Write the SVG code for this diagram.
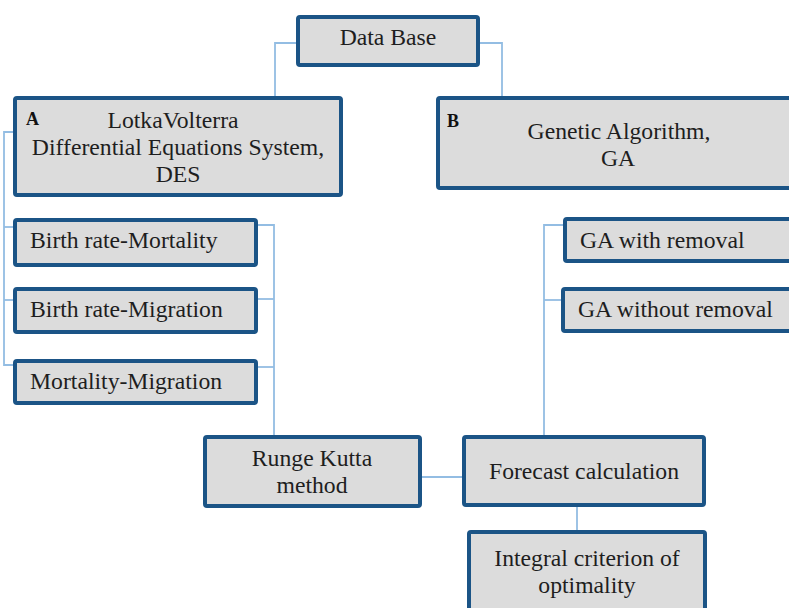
<svg xmlns="http://www.w3.org/2000/svg" width="789" height="608" viewBox="0 0 789 608">
<style>
.box{fill:#dcdcdc;stroke:#1b5486;stroke-width:4}
.t{font-family:"Liberation Serif","Times New Roman",serif;font-size:23.7px;fill:#1e1e1e}
.c{text-anchor:middle}
.b{font-family:"Liberation Serif","Times New Roman",serif;font-size:18px;font-weight:bold;fill:#111}
.conn{fill:none;stroke:#93bde3;stroke-width:1.8}
</style>
<rect width="789" height="608" fill="#fff"/>
<g id="connectors" class="conn">
<path d="M296 43 H275 V97"/>
<path d="M480 43 H502 V97"/>
<path d="M13 132 H4 V365 H13"/>
<path d="M4 227 H13"/>
<path d="M4 300 H13"/>
<path d="M258 225 H274 V435"/>
<path d="M258 299 H274"/>
<path d="M258 367 H274"/>
<path d="M422 477 H462"/>
<path d="M544 435 V225 H563"/>
<path d="M544 300 H561"/>
<path d="M577 507 V530"/>
</g>
<g id="database">
<rect class="box" x="298" y="17" width="180" height="48" rx="2"/>
<text class="t c" x="388" y="45">Data Base</text>
</g>
<g id="nodeA">
<rect class="box" x="15" y="98" width="326" height="97" rx="2"/>
<text class="b" x="26" y="125">A</text>
<text class="t c" x="173" y="128">LotkaVolterra</text>
<text class="t c" x="178" y="155">Differential Equations System,</text>
<text class="t c" x="178" y="182">DES</text>
</g>
<g id="nodeB">
<rect class="box" x="438" y="98" width="362" height="90" rx="2"/>
<text class="b" x="447" y="127">B</text>
<text class="t c" x="619" y="139">Genetic Algorithm,</text>
<text class="t c" x="618" y="166">GA</text>
</g>
<g id="birth-mortality">
<rect class="box" x="15" y="220" width="241" height="45" rx="2"/>
<text class="t" x="30" y="248">Birth rate-Mortality</text>
</g>
<g id="birth-migration">
<rect class="box" x="15" y="289" width="241" height="43" rx="2"/>
<text class="t" x="30" y="317">Birth rate-Migration</text>
</g>
<g id="mortality-migration">
<rect class="box" x="15" y="361" width="241" height="42" rx="2"/>
<text class="t" x="30" y="389">Mortality-Migration</text>
</g>
<g id="ga-with">
<rect class="box" x="565" y="219" width="240" height="42" rx="2"/>
<text class="t" x="580" y="248">GA with removal</text>
</g>
<g id="ga-without">
<rect class="box" x="563" y="289" width="240" height="42" rx="2"/>
<text class="t" x="578" y="317">GA without removal</text>
</g>
<g id="runge-kutta">
<rect class="box" x="205" y="437" width="215" height="69" rx="2"/>
<text class="t c" x="312" y="466">Runge Kutta</text>
<text class="t c" x="312" y="493">method</text>
</g>
<g id="forecast">
<rect class="box" x="464" y="437" width="240" height="68" rx="2"/>
<text class="t c" x="584" y="479">Forecast calculation</text>
</g>
<g id="integral">
<rect class="box" x="469" y="532" width="236" height="90" rx="2"/>
<text class="t c" x="587" y="566">Integral criterion of</text>
<text class="t c" x="587" y="593">optimality</text>
</g>
</svg>
